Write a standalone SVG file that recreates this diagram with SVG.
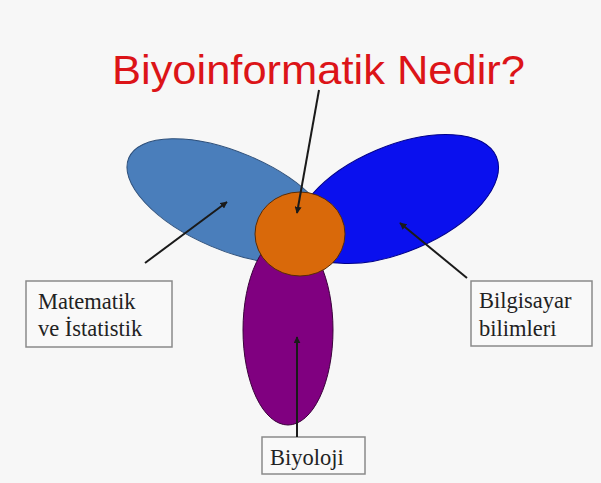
<svg xmlns="http://www.w3.org/2000/svg" width="601" height="483" viewBox="0 0 601 483">
<defs>
<style>
.lbl{font-family:"Liberation Serif","Times New Roman",serif;font-size:22.5px;fill:#222}
.box{fill:#f9f9f9;stroke:#8a8a8a;stroke-width:1.5}
.con{stroke:#1a1a1a;stroke-width:2;fill:none;marker-end:url(#ah)}
.title{font-family:"Liberation Sans",Arial,sans-serif;font-size:40px;fill:#dc1418}
</style>
<marker id="ah" viewBox="0 0 10 10" refX="9" refY="5" markerWidth="7" markerHeight="7" markerUnits="userSpaceOnUse" orient="auto">
<path d="M0,0 L10,5 L0,10 z" fill="#1a1a1a"/>
</marker>
</defs>
<rect x="0" y="0" width="601" height="483" fill="#f7f7f7"/>
<g id="title"><text class="title" x="112" y="84" textLength="413" lengthAdjust="spacingAndGlyphs">Biyoinformatik Nedir?</text></g>
<g id="matematik-ellipse"><ellipse cx="230" cy="201" rx="110" ry="49" transform="rotate(23 230 201)" fill="#4a7ebb" stroke="#2d4f7a" stroke-width="1"/></g>
<g id="bilgisayar-ellipse"><ellipse cx="397" cy="199" rx="108" ry="53" transform="rotate(-23 397 199)" fill="#0a10ee" stroke="#00008a" stroke-width="1"/></g>
<g id="biyoloji-ellipse"><ellipse cx="288" cy="330" rx="45" ry="95" fill="#800080" stroke="#3a003a" stroke-width="1"/></g>
<g id="biyoinformatik-circle"><ellipse cx="300" cy="234" rx="45" ry="42" fill="#d9690a" stroke="#5a2c05" stroke-width="1"/></g>
<g id="matematik-box"><rect class="box" x="26" y="281" width="146" height="66"/><text class="lbl" x="38" y="309">Matematik</text><text class="lbl" x="38" y="336">ve İstatistik</text></g>
<g id="bilgisayar-box"><rect class="box" x="471" y="281" width="121" height="65"/><text class="lbl" x="479" y="308">Bilgisayar</text><text class="lbl" x="479" y="336">bilimleri</text></g>
<g id="biyoloji-box"><rect class="box" x="262" y="437" width="103" height="37"/><text class="lbl" x="270" y="465">Biyoloji</text></g>
<g id="connectors">
<line class="con" x1="319" y1="90" x2="297" y2="213"/>
<line class="con" x1="145" y1="263" x2="227" y2="202"/>
<line class="con" x1="467" y1="278" x2="400" y2="223"/>
<line class="con" x1="297" y1="437" x2="297" y2="337"/>
</g>
</svg>
